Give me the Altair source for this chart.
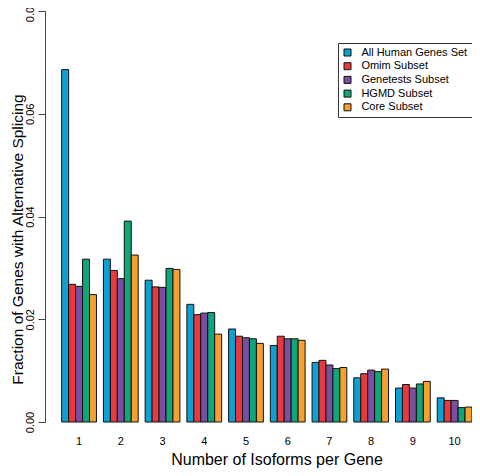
import altair as alt
import pandas as pd

isoforms = ["1", "2", "3", "4", "5", "6", "7", "8", "9", "10"]
series = ["All Human Genes Set", "Omim Subset", "Genetests Subset", "HGMD Subset", "Core Subset"]
colors = ["#0E9FD3", "#E8393F", "#7D4E9F", "#0FA67B", "#F5A12F"]

all_human = [0.0686, 0.0317, 0.0276, 0.0229, 0.0181, 0.0149, 0.0116, 0.0086, 0.0066, 0.0047]
omim = [0.0268, 0.0295, 0.0263, 0.0209, 0.0167, 0.0167, 0.0120, 0.0094, 0.0073, 0.0042]
genetests = [0.0264, 0.0279, 0.0262, 0.0212, 0.0164, 0.0162, 0.0111, 0.0101, 0.0066, 0.0042]
hgmd = [0.0317, 0.0391, 0.0299, 0.0213, 0.0162, 0.0162, 0.0104, 0.0098, 0.0074, 0.0028]
core = [0.0248, 0.0325, 0.0297, 0.0171, 0.0153, 0.0159, 0.0106, 0.0103, 0.0079, 0.0029]

values = [all_human, omim, genetests, hgmd, core]
rows = []
for s, vals in zip(series, values):
    for k, v in zip(isoforms, vals):
        rows.append({"isoforms": k, "series": s, "fraction": v})
df = pd.DataFrame(rows)

font = "Liberation Sans"

chart = alt.Chart(df).mark_bar(stroke="#111111", strokeWidth=1).encode(
    x=alt.X(
        "isoforms:N",
        sort=isoforms,
        scale=alt.Scale(paddingInner=1 / 6, paddingOuter=0.2, align=1, round=False),
        axis=alt.Axis(
            title="Number of Isoforms per Gene",
            labelAngle=0,
            domain=False,
            ticks=False,
            tickSize=0,
            labelPadding=13,
            labelFontSize=11,
            labelFont=font,
            labelColor="#000000",
            titleFont=font,
            titleFontSize=16,
            titleFontWeight="normal",
            titleColor="#000000",
            titleX=231.5,
            titleY=42,
            titleBaseline="alphabetic",
            titleAlign="center",
        ),
    ),
    xOffset=alt.XOffset(
        "series:N",
        sort=series,
        scale=alt.Scale(paddingInner=0, paddingOuter=0, round=False),
    ),
    y=alt.Y(
        "fraction:Q",
        scale=alt.Scale(domain=[0, 0.08], nice=False, zero=True),
        axis=alt.Axis(
            title="Fraction of Genes with Alternative Splicing",
            values=[0, 0.02, 0.04, 0.06, 0.08],
            format=".2f",
            grid=False,
            domainColor="#444444",
            tickColor="#444444",
            tickSize=7,
            labelAngle=-90,
            labelAlign="center",
            labelBaseline="alphabetic",
            labelPadding=4.5,
            labelFontSize=11,
            labelFont=font,
            labelColor="#000000",
            titleFont=font,
            titleFontSize=15.5,
            titleFontWeight="normal",
            titleColor="#000000",
            titleAngle=-90,
            titleAlign="center",
            titleBaseline="alphabetic",
            titleX=-23,
            titleY=228,
        ),
    ),
    color=alt.Color(
        "series:N",
        sort=series,
        scale=alt.Scale(domain=series, range=colors),
        legend=alt.Legend(
            title=None,
            orient="none",
            legendX=293,
            legendY=32,
            padding=4,
            strokeColor="#333333",
            fillColor="#ffffff",
            symbolType="square",
            symbolSize=49,
            symbolStrokeColor="#111111",
            symbolStrokeWidth=1,
            symbolOpacity=1,
            labelFont=font,
            labelFontSize=11,
            labelColor="#000000",
            labelOffset=8.4,
            rowPadding=1.7,
            labelLimit=300,
        ),
    ),
).properties(
    width=427,
    height=411,
    autosize=alt.AutoSizeParams(type="none"),
    padding={"left": 37, "top": 3, "right": 0, "bottom": 46},
).configure_view(stroke=None)

chart.save("out.html", embed_options={"renderer": "svg", "actions": False})
